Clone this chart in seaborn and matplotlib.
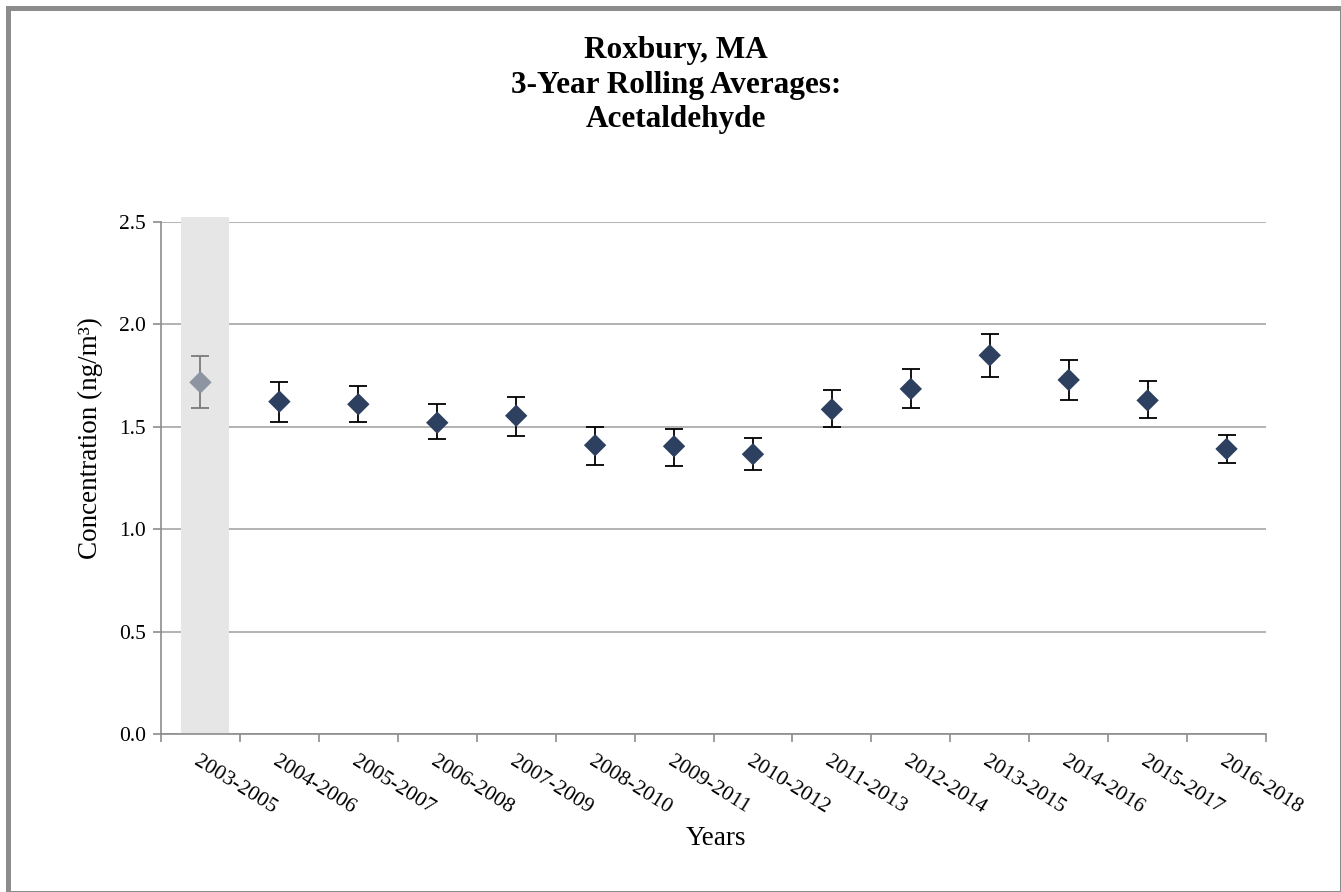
import numpy as np
import pandas as pd
import matplotlib
matplotlib.use("Agg")
import matplotlib.pyplot as plt
import seaborn as sns
from matplotlib.patches import Rectangle

# values
periods = ["2003-2005", "2004-2006", "2005-2007", "2006-2008", "2007-2009",
           "2008-2010", "2009-2011", "2010-2012", "2011-2013", "2012-2014",
           "2013-2015", "2014-2016", "2015-2017", "2016-2018"]
means = [1.717, 1.623, 1.610, 1.520, 1.554, 1.410, 1.405, 1.366, 1.585, 1.685,
         1.849, 1.729, 1.629, 1.392]
upper = [1.847, 1.717, 1.698, 1.610, 1.647, 1.498, 1.491, 1.447, 1.680, 1.784,
         1.953, 1.828, 1.722, 1.458]
lower = [1.592, 1.523, 1.523, 1.442, 1.454, 1.315, 1.310, 1.291, 1.498, 1.592,
         1.742, 1.629, 1.543, 1.322]
status = ["shaded"] + ["normal"] * 13
y_ticks = [0.0, 0.5, 1.0, 1.5, 2.0, 2.5]

df = pd.DataFrame({"period": periods, "mean": means, "upper": upper,
                   "lower": lower, "status": status})

colors = {"normal": "#2d405f", "shaded": "#8d95a3"}
bar_colors = {"normal": "#000000", "shaded": "#7a7a7a"}

sns.set_theme(style="white")
plt.rcParams["font.family"] = ["Liberation Serif", "DejaVu Serif"]
plt.rcParams.update({"text.color": "black", "axes.labelcolor": "black",
                     "xtick.color": "black", "ytick.color": "black"})

fig = plt.figure(figsize=(13.41, 8.92), dpi=100)
ax = fig.add_axes([161 / 1341, 1 - 734 / 892, 1105 / 1341, 512 / 892])

# markers first so the category order follows the periods list
sns.scatterplot(data=df, x="period", y="mean", hue="status", palette=colors,
                marker="D", s=130, edgecolor="none", legend=False, ax=ax,
                zorder=3)

# error bars
for st, sub in df.groupby("status"):
    ax.errorbar(sub["period"], sub["mean"],
                yerr=[sub["mean"] - sub["lower"], sub["upper"] - sub["mean"]],
                fmt="none", ecolor=bar_colors[st], elinewidth=1.3,
                capsize=6.5, capthick=1.3, zorder=2)

# grey band behind the first period
i0 = periods.index(df.loc[df["status"] == "shaded", "period"].iloc[0])
ax.axvspan(i0 - 0.25, i0 + 0.36, ymin=0, ymax=1.009, color="#e6e6e6",
           lw=0, clip_on=False, zorder=1)

ax.set_xlim(-0.5, len(periods) - 0.5)
ax.set_ylim(0, 2.5)
ax.set_yticks(y_ticks)
ax.set_yticklabels([f"{v:.1f}" for v in y_ticks], fontsize=15.5)
ax.set_xticks(range(len(periods)))
ax.set_xticklabels(periods, fontsize=15.5, rotation=-32, ha="left",
                   va="top", rotation_mode="anchor")
ax.set_xticks(np.arange(-0.5, len(periods), 1), minor=True)
ax.tick_params(axis="x", which="major", length=0, pad=13)
ax.tick_params(axis="x", which="minor", length=6, width=1.2,
               color="#8c8c8c", direction="out", bottom=True)
ax.tick_params(axis="y", length=6, width=1.2, color="#8c8c8c",
               direction="out", left=True, pad=5)

ax.yaxis.grid(True, color="#a6a6a6", lw=1.2)
ax.set_axisbelow(True)
for side in ["top", "right"]:
    ax.spines[side].set_visible(False)
for side in ["left", "bottom"]:
    ax.spines[side].set_color("#8c8c8c")
    ax.spines[side].set_linewidth(1.2)

ax.set_xlabel("Years", fontsize=19.5)
ax.set_ylabel("Concentration (ng/m³)", fontsize=19.5)
ax.xaxis.set_label_coords((716 - 161) / 1105, (734 - 826) / 512)
ax.yaxis.set_label_coords((103 - 161) / 1105, 0.578)

fig.text(676 / 1341, 1 - 36 / 892,
         "Roxbury, MA\n3-Year Rolling Averages:\nAcetaldehyde",
         ha="center", va="top", fontsize=22.5, fontweight="bold",
         linespacing=1.26)

# outer frame
fig.patches.append(Rectangle((7.5 / 1341, -0.5 / 892), 1334 / 1341, 885 / 892,
                             transform=fig.transFigure, fill=False,
                             edgecolor="#8c8c8c", lw=3.6))

fig.savefig("out.png", dpi=100)
